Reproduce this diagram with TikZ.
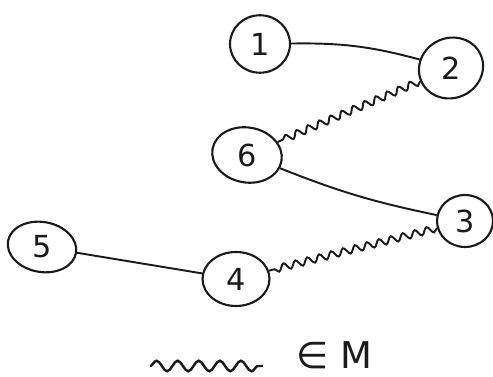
\documentclass[tikz,border=0pt]{standalone}
\usepackage{fontspec}
\setmainfont{DejaVu Sans}
\usepackage{tikz}
\usetikzlibrary{decorations.pathmorphing,shapes.geometric}
\definecolor{ink}{HTML}{1A1A1A}
\tikzset{
  vertex/.style={draw=ink,ellipse,line width=1.2pt,minimum width=1.2cm,minimum height=1.1cm,inner sep=0pt,font=\LARGE,text=ink},
  edge/.style={draw=ink,line width=1.1pt},
  matched/.style={draw=ink,line width=1.1pt,decorate,decoration={snake,amplitude=2pt,segment length=7pt}},
}

\begin{document}
\begin{tikzpicture}[x=0.02cm,y=-0.02cm]
    \useasboundingbox (0,0) rectangle (493,377);
    \node[vertex,minimum height=1.15cm] (v1) at (260,44) {1};
    \node[vertex,minimum width=1.3cm,minimum height=1.2cm,rotate=25] (v2) at (451,68) {\rotatebox{-25}{2}};
    \node[vertex,minimum width=1.4cm,rotate=-10] (v6) at (247,155) {\rotatebox{10}{6}};
    \node[vertex,minimum width=1.12cm,minimum height=1.04cm] (v3) at (465,221) {3};
    \node[vertex,minimum width=1.38cm,minimum height=1.0cm,rotate=-10] (v5) at (42,247) {\rotatebox{10}{5}};
    \node[vertex,minimum width=1.34cm,minimum height=1.08cm] (v4) at (236,279) {4};
    \draw[edge] (v1) to[bend left=8] (v2);
    \draw[matched] (v2) -- (v6);
    \draw[edge] (v6) to[bend right=5] (v3);
    \draw[matched] (v3) -- (v4);
    \draw[edge] (v5) -- (v4);
    % legend
    \coordinate (la) at (150,366);
    \coordinate (lb) at (263,366);
    \draw[matched,line width=1.4pt,decoration={snake,amplitude=3pt,segment length=12pt}] (la) -- (lb);
    \node[font=\fontsize{21}{23}\selectfont,text=ink,anchor=base west,inner sep=0pt] (lm) at (296,369) {∈ M};
\end{tikzpicture}
\end{document}
